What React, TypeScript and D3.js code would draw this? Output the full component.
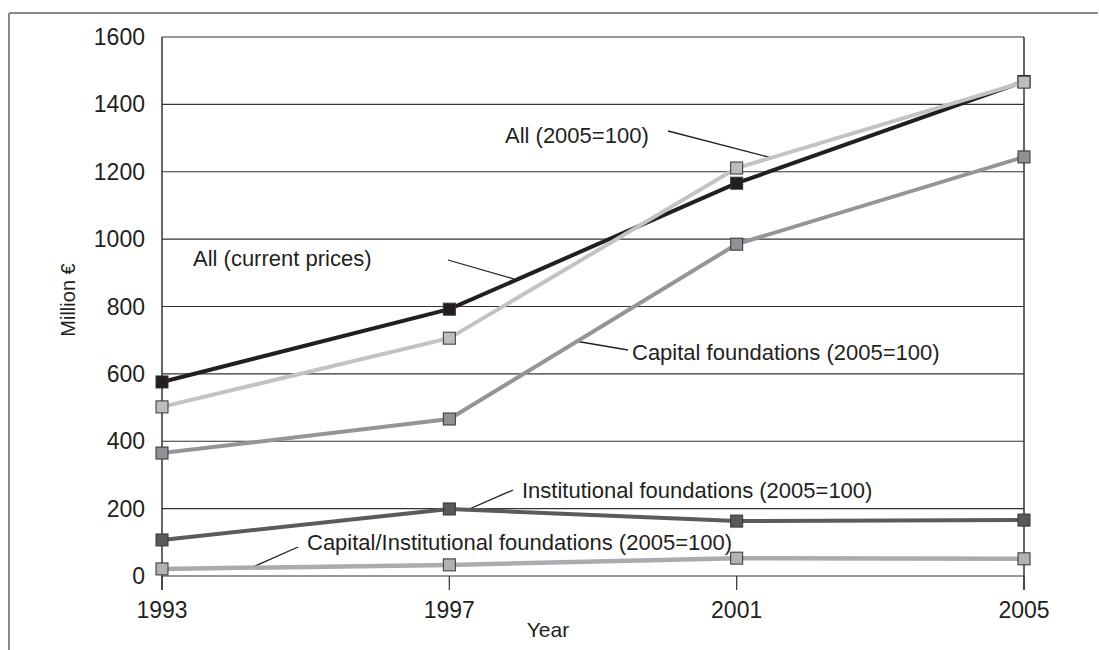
import React from "react";
import * as d3 from "d3";

const years = [1993, 1997, 2001, 2005];
const yTicks = [0, 200, 400, 600, 800, 1000, 1200, 1400, 1600];

const allCurrent = [576, 792, 1166, 1468];
const all2005 = [502, 706, 1211, 1466];
const capital2005 = [365, 466, 985, 1244];
const institutional2005 = [107, 199, 163, 166];
const capInst2005 = [21, 33, 53, 51];

const seriesNames = [
  "All (current prices)",
  "All (2005=100)",
  "Capital foundations (2005=100)",
  "Institutional foundations (2005=100)",
  "Capital/Institutional foundations (2005=100)",
];

const W = 1099;
const H = 650;
const left = 162;
const right = 1024;
const top = 37;
const bottom = 576;
const FONT = "'Liberation Sans Narrow', 'Arial Narrow', 'Liberation Sans', sans-serif";
const TXT = "#231f20";

export default function App() {
  const x = d3.scalePoint<number>().domain(years).range([left, right]);
  const y = d3.scaleLinear().domain([0, 1600]).range([bottom, top]);

  const series = [
    { name: seriesNames[0], values: allCurrent, line: "#231f20", fill: "#231f20", width: 4 },
    { name: seriesNames[1], values: all2005, line: "#c2c3c5", fill: "#bcbdc0", width: 4 },
    { name: seriesNames[2], values: capital2005, line: "#939598", fill: "#909194", width: 4 },
    { name: seriesNames[3], values: institutional2005, line: "#5a5b5d", fill: "#5a5a5c", width: 4 },
    { name: seriesNames[4], values: capInst2005, line: "#a9abae", fill: "#b1b2b4", width: 4.5 },
  ];

  const line = d3
    .line<number>()
    .x((_, i) => x(years[i]) as number)
    .y((d) => y(d));

  const labels = [
    { text: seriesNames[1], tx: 505, ty: 143, l: [668, 131, 772, 158] },
    { text: seriesNames[0], tx: 193, ty: 266, l: [448, 260, 514, 279] },
    { text: seriesNames[2], tx: 632, ty: 360, l: [575, 341, 628, 350] },
    { text: seriesNames[3], tx: 522, ty: 498, l: [467, 510, 513, 490] },
    { text: seriesNames[4], tx: 307, ty: 550, l: [253, 567, 298, 547] },
  ];

  const ms = 12;

  return (
    <svg
      width={W}
      height={H}
      style={{ position: "absolute", left: 0, top: 0, background: "#fff" }}
      fontFamily={FONT}
    >
      <line x1={9} y1={13} x2={1098} y2={13} stroke="#8a8a8a" strokeWidth={2} />
      <line x1={9} y1={13} x2={9} y2={650} stroke="#8a8a8a" strokeWidth={2} />

      {yTicks.map((t) => (
        <line key={"g" + t} x1={left} x2={right} y1={y(t)} y2={y(t)} stroke="#333" strokeWidth={1.2} />
      ))}
      <line x1={left} x2={left} y1={top} y2={bottom + 14} stroke="#333" strokeWidth={1.5} />
      <line x1={right} x2={right} y1={top} y2={bottom + 14} stroke="#333" strokeWidth={1.5} />
      {years.map((yr) => (
        <line key={"t" + yr} x1={x(yr)} x2={x(yr)} y1={bottom} y2={bottom + 14} stroke="#333" strokeWidth={1.2} />
      ))}

      {yTicks.map((t) => (
        <text key={"yl" + t} x={145} y={y(t) + 8} textAnchor="end" fontSize={23} fill={TXT}>
          {t}
        </text>
      ))}
      {years.map((yr) => (
        <text key={"xl" + yr} x={x(yr)} y={618} textAnchor="middle" fontSize={23} fill={TXT}>
          {yr}
        </text>
      ))}

      <text x={548} y={637} textAnchor="middle" fontSize={21} fill={TXT}>
        Year
      </text>
      <text
        transform={`translate(75,${300}) rotate(-90)`}
        textAnchor="middle"
        fontSize={20}
        fill={TXT}
      >
        Million €
      </text>

      {labels.map((lb, i) => (
        <g key={"lb" + i}>
          <line x1={lb.l[0]} y1={lb.l[1]} x2={lb.l[2]} y2={lb.l[3]} stroke="#231f20" strokeWidth={1.3} />
          <text x={lb.tx} y={lb.ty} fontSize={22} fill={TXT}>
            {lb.text}
          </text>
        </g>
      ))}

      {series.map((s, si) => (
        <g key={"s" + si}>
          <path d={line(s.values) || ""} fill="none" stroke={s.line} strokeWidth={s.width} />
          {s.values.map((v, i) => (
            <rect
              key={i}
              x={(x(years[i]) as number) - ms / 2}
              y={y(v) - ms / 2}
              width={ms}
              height={ms}
              fill={s.fill}
              stroke="#333"
              strokeWidth={1}
            />
          ))}
        </g>
      ))}
    </svg>
  );
}
